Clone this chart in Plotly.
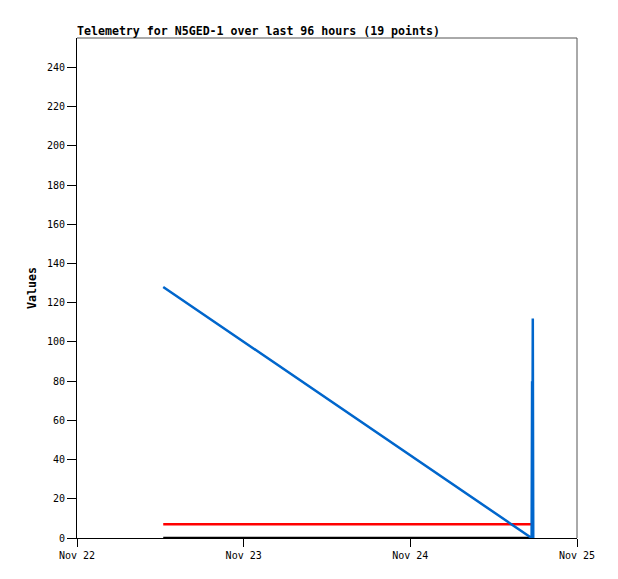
import plotly.graph_objects as go

# Data
blue_times = ["2023-11-22 12:25", "2023-11-24 17:28", "2023-11-24 17:32", "2023-11-24 17:34",
              "2023-11-24 17:38", "2023-11-24 17:40", "2023-11-24 17:42"]
blue_values = [128, 0, 80, 16, 112, 17, 0]

red_times = ["2023-11-22 12:25", "2023-11-24 17:42"]
red_values = [7, 7]

black_times = ["2023-11-22 12:25", "2023-11-24 17:42"]
black_values = [0, 0]

title_text = "Telemetry for N5GED-1 over last 96 hours (19 points)"
y_label = "Values"
y_ticks = list(range(0, 260, 20))

fig = go.Figure()
fig.add_trace(go.Scatter(x=black_times, y=black_values, mode="lines",
                         line=dict(color="#000000", width=2.5), hoverinfo="skip"))
fig.add_trace(go.Scatter(x=red_times, y=red_values, mode="lines",
                         line=dict(color="#ff0000", width=2.5), hoverinfo="skip"))
fig.add_trace(go.Scatter(x=blue_times, y=blue_values, mode="lines",
                         line=dict(color="#0066cc", width=2.5), hoverinfo="skip"))

font_family = "DejaVu Sans Mono"
W, H = 610, 571
fig.update_layout(
    width=W, height=H,
    margin=dict(l=69, r=41, t=30, b=41),
    paper_bgcolor="white", plot_bgcolor="white",
    showlegend=False,
    font=dict(family=font_family, size=10, color="black"),
    title=dict(text="<b>" + title_text + "</b>", x=69/W, xanchor="left",
               y=1 - 23/H, yanchor="middle", font=dict(size=11.6, family=font_family)),
    xaxis=dict(type="date", range=["2023-11-22", "2023-11-25"], dtick=86400000,
               tickformat="%b %d", showgrid=False, zeroline=False,
               showline=True, linecolor="black", linewidth=1,
               ticks="outside", ticklen=8, tickcolor="black",
               tickfont=dict(size=10, family=font_family)),
    yaxis=dict(range=[0, 255], tickvals=y_ticks, showgrid=False, zeroline=False,
               showline=True, linecolor="black", linewidth=1,
               ticks="outside", ticklen=9, tickcolor="black",
               title=dict(text="<b>" + y_label + "</b>", standoff=7,
                          font=dict(size=11.6, family=font_family)),
               tickfont=dict(size=10, family=font_family)),
    shapes=[
        dict(type="line", xref="paper", yref="paper", x0=0, x1=1, y0=1, y1=1,
             line=dict(color="#555555", width=1)),
        dict(type="line", xref="paper", yref="paper", x0=1, x1=1, y0=0, y1=1,
             line=dict(color="#555555", width=1)),
    ],
)

fig.write_html("out.html")
